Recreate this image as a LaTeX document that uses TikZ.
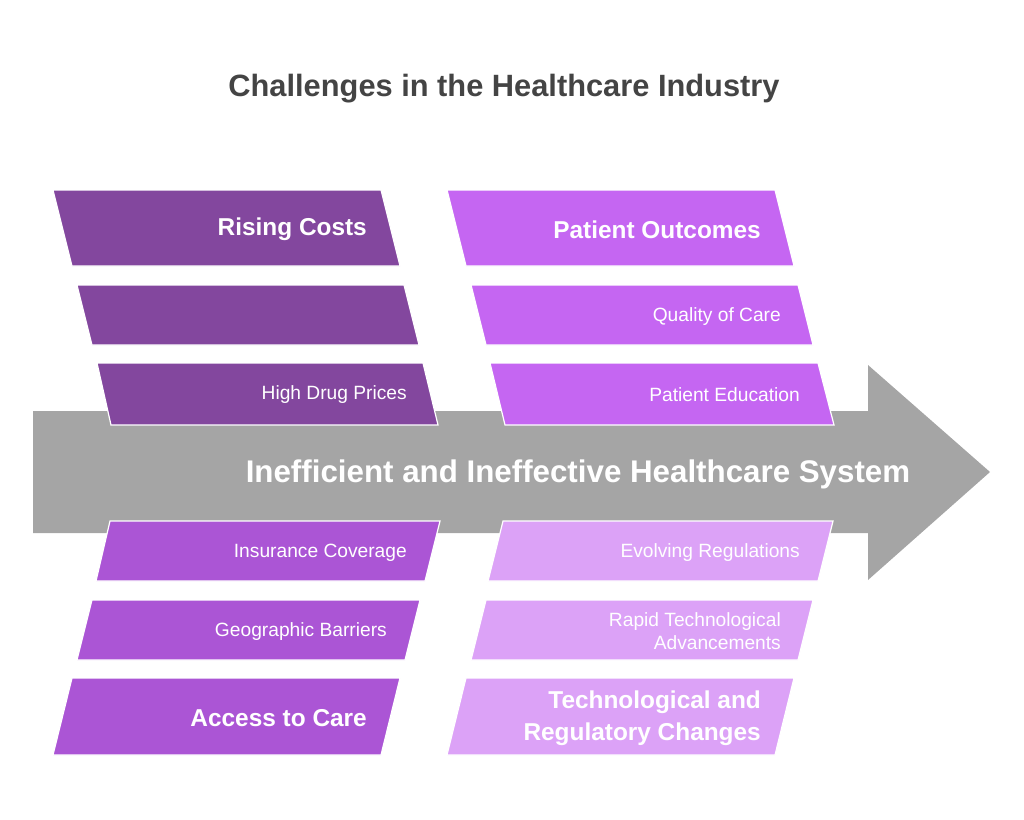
\documentclass[tikz,border=0pt]{standalone}
\usepackage{fontspec}
\setmainfont{Liberation Sans}
\definecolor{cA}{HTML}{83479E}
\definecolor{cB}{HTML}{C566F2}
\definecolor{cC}{HTML}{AB55D5}
\definecolor{cD}{HTML}{DCA2F7}
\definecolor{arrowgray}{HTML}{A5A5A5}
\definecolor{titlegray}{HTML}{444444}
\tikzset{
  pgram/.style={draw=white, line width=1.2pt, line join=miter},
  bigtxt/.style={anchor=east, text=white, font=\fontsize{24.4}{32}\selectfont\bfseries, align=right, inner sep=0pt},
  smalltxt/.style={anchor=east, text=white, font=\fontsize{19.2}{23}\selectfont, align=right, inner sep=0pt},
}
\begin{document}
\begin{tikzpicture}[x=1pt,y=-1pt]
\useasboundingbox (0,0) rectangle (1024,819);
% title
\node[text=titlegray, font=\fontsize{30.8}{34}\selectfont\bfseries, inner sep=0pt] (title) at (504,89) {Challenges in the Healthcare Industry};
% main arrow
\fill[arrowgray] (33,411) -- (868,411) -- (868,365) -- (990,472) -- (868,580) -- (868,533) -- (33,533) -- cycle;
% top-left column
\filldraw[pgram, fill=cA] (53,190) -- (381,190) -- (400,266) -- (72,266) -- cycle;
\filldraw[pgram, fill=cA] (77,285) -- (404,285) -- (419,345) -- (92,345) -- cycle;
\filldraw[pgram, fill=cA] (97,363) -- (423,363) -- (438,425) -- (111,425) -- cycle;
% top-right column
\filldraw[pgram, fill=cB] (447,190) -- (775,190) -- (794,266) -- (466,266) -- cycle;
\filldraw[pgram, fill=cB] (471,285) -- (798,285) -- (813,345) -- (486,345) -- cycle;
\filldraw[pgram, fill=cB] (490,363) -- (818,363) -- (834,425) -- (505,425) -- cycle;
% bottom-left column
\filldraw[pgram, fill=cC] (110,521) -- (440,521) -- (425,581) -- (96,581) -- cycle;
\filldraw[pgram, fill=cC] (92,600) -- (420,600) -- (405,660) -- (77,660) -- cycle;
\filldraw[pgram, fill=cC] (72,678) -- (400,678) -- (381,755) -- (53,755) -- cycle;
% bottom-right column
\filldraw[pgram, fill=cD] (503,521) -- (833,521) -- (818,581) -- (488,581) -- cycle;
\filldraw[pgram, fill=cD] (486,600) -- (813,600) -- (798,660) -- (471,660) -- cycle;
\filldraw[pgram, fill=cD] (466,678) -- (794,678) -- (775,755) -- (447,755) -- cycle;
% labels
\node[text=white, font=\fontsize{31.3}{34}\selectfont\bfseries, inner sep=0pt] (main) at (578,474) {Inefficient and Ineffective Healthcare System};
\node[bigtxt] (rc) at (367,229.5) {Rising Costs};
\node[smalltxt] (hdp) at (407,394.5) {High Drug Prices};
\node[bigtxt] (po) at (761,229.5) {Patient Outcomes};
\node[smalltxt] (qoc) at (781,316.5) {Quality of Care};
\node[smalltxt] (pe) at (800,394.5) {Patient Education};
\node[smalltxt] (ic) at (407,552.5) {Insurance Coverage};
\node[smalltxt] (gb) at (387,631.5) {Geographic Barriers};
\node[bigtxt] (atc) at (367,718.5) {Access to Care};
\node[smalltxt] (er) at (800,552.5) {Evolving Regulations};
\node[smalltxt] (rta) at (781,631.5) {Rapid Technological\\Advancements};
\node[bigtxt] (trc) at (761,718.5) {Technological and\\Regulatory Changes};
\end{tikzpicture}
\end{document}
